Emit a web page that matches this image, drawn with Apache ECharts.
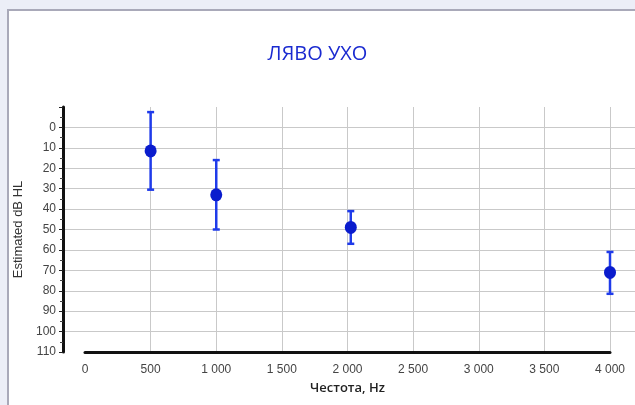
<!DOCTYPE html>
<html>
<head>
<meta charset="utf-8">
<script src="https://cdn.jsdelivr.net/npm/echarts@6/dist/echarts.min.js"></script>
<style>
html,body{margin:0;padding:0;background:#eceef7;}
#c{width:635px;height:405px;}
</style>
</head>
<body>
<div id="c"></div>
<script>
// ---- data ----
const titleText = 'ЛЯВО УХО';
const xName = 'Честота, Hz';
const yName = 'Estimated dB HL';
const frequencies = [500, 1000, 2025, 4000];      // Hz
const estimated   = [11.5, 33, 49, 71];           // dB HL
const lowerBound  = [-7.5, 16, 41, 61];           // error bar top (dB HL)
const upperBound  = [30.5, 50, 57, 81.5];         // error bar bottom (dB HL)
const xTicks = [0, 500, 1000, 1500, 2000, 2500, 3000, 3500, 4000];
const yTicks = [0, 10, 20, 30, 40, 50, 60, 70, 80, 90, 100, 110];

const chart = echarts.init(document.getElementById('c'), null, {renderer:'canvas'});

const grey = '#c9c9c9';
const xSplitColors = xTicks.map((v,i) => i === 0 ? 'rgba(0,0,0,0)' : grey);
const ySplitColors = [-10].concat(yTicks).map(v => (v === -10 || v === 110) ? 'rgba(0,0,0,0)' : grey);

function fmtThousands(v){
  return String(v).replace(/\B(?=(\d{3})+(?!\d))/g, ' ');
}

const option = {
  backgroundColor: '#eceef7',
  animation: false,
  graphic: [{
    type: 'rect', z: -10, silent: true,
    shape: {x: 8, y: 10, width: 700, height: 500},
    style: {fill: '#ffffff', stroke: '#a9a9b9', lineWidth: 2}
  }],
  title: {
    text: titleText,
    left: 'center',
    top: 44,
    padding: 0,
    textStyle: {fontFamily: 'Open Sans', fontSize: 20, fontWeight: 'normal', color: '#1a2ad0'}
  },
  grid: [
    {left: 85, right: 25, top: 107, bottom: 53},
    {left: 63, right: 0, top: 107, bottom: 53}
  ],
  xAxis: [
    {
      gridIndex: 0, type: 'value', min: 0, max: 4000, interval: 500,
      axisLine: {show: true, onZero: false, lineStyle: {color: '#111', width: 3}},
      axisTick: {show: false},
      axisLabel: {fontFamily: 'Liberation Sans', fontSize: 12, color: '#444', margin: 12,
                  formatter: v => fmtThousands(v)},
      splitLine: {show: true, lineStyle: {color: xSplitColors, width: 1}},
      name: xName, nameLocation: 'middle', nameGap: 30,
      nameTextStyle: {fontFamily: 'Open Sans', fontSize: 13, fontWeight: 600, color: '#222'}
    },
    {gridIndex: 1, type: 'value', min: 0, max: 1, show: false}
  ],
  yAxis: [
    {gridIndex: 0, type: 'value', inverse: true, min: -10, max: 110, show: false},
    {
      gridIndex: 1, type: 'value', inverse: true, min: -10, max: 110, interval: 10,
      axisLine: {show: true, onZero: false, lineStyle: {color: '#111', width: 3}},
      axisTick: {show: true, length: 4, lineStyle: {color: '#222'}},
      minorTick: {show: true, splitNumber: 2, length: 3, lineStyle: {color: '#444'}},
      axisLabel: {fontFamily: 'Liberation Sans', fontSize: 12, color: '#444', margin: 7,
                  formatter: v => v === -10 ? '' : String(v)},
      splitLine: {show: true, lineStyle: {color: ySplitColors, width: 1}},
      name: yName, nameLocation: 'middle', nameGap: 31, nameRotate: 90,
      nameTextStyle: {fontFamily: 'Liberation Sans', fontSize: 13, color: '#333'}
    }
  ],
  series: [
    {
      type: 'custom', xAxisIndex: 0, yAxisIndex: 0, z: 3,
      data: frequencies.map((f,i) => [f, lowerBound[i], upperBound[i]]),
      renderItem: function(params, api){
        const x = api.value(0);
        const p1 = api.coord([x, api.value(1)]);
        const p2 = api.coord([x, api.value(2)]);
        const cw = 3.5;
        const st = {stroke: '#1f3bea', lineWidth: 2.5};
        return {type: 'group', children: [
          {type: 'line', shape: {x1: p1[0], y1: p1[1], x2: p2[0], y2: p2[1]}, style: st},
          {type: 'line', shape: {x1: p1[0]-cw, y1: p1[1], x2: p1[0]+cw, y2: p1[1]}, style: st},
          {type: 'line', shape: {x1: p2[0]-cw, y1: p2[1], x2: p2[0]+cw, y2: p2[1]}, style: st}
        ]};
      }
    },
    {
      type: 'scatter', xAxisIndex: 0, yAxisIndex: 0, z: 4,
      symbol: 'circle', symbolSize: [12, 13],
      itemStyle: {color: '#0a1ccd', opacity: 1},
      data: frequencies.map((f,i) => [f, estimated[i]])
    }
  ]
};
chart.setOption(option);
</script>
</body>
</html>
